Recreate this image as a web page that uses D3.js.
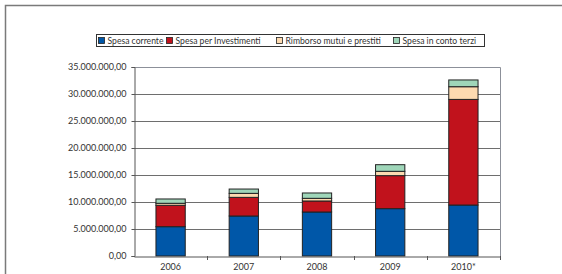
<!DOCTYPE html>
<html><head><meta charset="utf-8">
<script src="https://cdn.jsdelivr.net/npm/d3@7"></script>
<style>body{margin:0;background:#fff}svg{display:block}text{font-family:Lato,"Open Sans",sans-serif;fill:#333}</style>
</head><body>
<script>
const categories = ["2006","2007","2008","2009","2010*"];
const seriesNames = ["Spesa corrente","Spesa per Investimenti","Rimborso mutui e prestiti","Spesa in conto terzi"];
const spesaCorrente = [5430000, 7410000, 8150000, 8770000, 9440000];
const spesaInvestimenti = [3960000, 3450000, 2040000, 6110000, 19560000];
const rimborsoMutui = [370000, 740000, 490000, 800000, 2350000];
const spesaContoTerzi = [800000, 800000, 990000, 1230000, 1250000];
const yTicks = [0,5000000,10000000,15000000,20000000,25000000,30000000,35000000];
const colors = ["#0057A8","#C1121C","#FDDAB0","#9FD6B9"];

const W=562,H=274;
const svg=d3.select("body").append("svg").attr("width",W).attr("height",H);
// outer frame
svg.append("rect").attr("x",5.5).attr("y",5.5).attr("width",W+10).attr("height",H+10)
  .attr("fill","none").attr("stroke","#7a7a7a").attr("stroke-width",1.5);

const m={l:134,r:500,t:67,b:256};
const x=d3.scaleBand().domain(categories).range([m.l,m.r]).paddingInner(0.6).paddingOuter(0.3);
const xb=d3.scaleBand().domain(categories).range([m.l,m.r]);
const y=d3.scaleLinear().domain([0,35000000]).range([m.b,m.t]);

// grid
svg.append("g").selectAll("line").data(yTicks.filter(d=>d>0)).join("line")
  .attr("x1",m.l).attr("x2",m.r).attr("y1",d=>Math.round(y(d))+0.5).attr("y2",d=>Math.round(y(d))+0.5)
  .attr("stroke","#6e6e6e").attr("stroke-width",1);
// plot border right/top
svg.append("path").attr("d",`M${m.l},${m.t+0.5}H${m.r+0.5}V${m.b}`).attr("fill","none").attr("stroke","#8c9099").attr("stroke-width",1);

const data=categories.map((c,i)=>({cat:c,v:[spesaCorrente[i],spesaInvestimenti[i],rimborsoMutui[i],spesaContoTerzi[i]]}));
const stack=d3.stack().keys([0,1,2,3]).value((d,k)=>d.v[k]);
const layers=stack(data);
svg.append("g").selectAll("g").data(layers).join("g").attr("fill",(d,i)=>colors[i])
  .selectAll("rect").data(d=>d).join("rect")
  .attr("x",d=>x(d.data.cat)).attr("width",x.bandwidth())
  .attr("y",d=>y(d[1])).attr("height",d=>y(d[0])-y(d[1]))
  .attr("stroke","#222").attr("stroke-width",1);

// y axis
const ya=svg.append("g").attr("transform",`translate(${m.l+0.5},0)`)
  .call(d3.axisLeft(y).tickValues(yTicks).tickSize(3).tickPadding(5)
  .tickFormat(d=>d3.format(",.2f")(d).replace(/,/g,"#").replace(".",",").replace(/#/g,".")));
ya.select(".domain").attr("stroke","#555");
ya.selectAll("line").attr("stroke","#555");
ya.selectAll("text").attr("font-size","9px").attr("fill","#333");
// x axis
const xa=svg.append("g").attr("transform",`translate(0,${m.b+0.5})`)
  .call(d3.axisBottom(xb).tickSize(0).tickPadding(7));
xa.select(".domain").attr("stroke","#555");
xa.selectAll("text").attr("font-size","9px").attr("fill","#333");
svg.append("g").selectAll("line").data(categories.slice(1).concat(["end"])).join("line")
  .attr("x1",(d,i)=>Math.round(m.l+xb.step()*(i+1))+0.5).attr("x2",(d,i)=>Math.round(m.l+xb.step()*(i+1))+0.5)
  .attr("y1",m.b).attr("y2",m.b+4).attr("stroke","#555");

// legend
const lg=svg.append("g");
lg.append("rect").attr("x",96.5).attr("y",34.5).attr("width",388).attr("height",12)
  .attr("fill","#fff").attr("stroke","#333").attr("stroke-width",1);
const lx=[98,166,276,393];
seriesNames.forEach((n,i)=>{
  lg.append("rect").attr("x",lx[i]+0.5).attr("y",37.5).attr("width",6).attr("height",6)
    .attr("fill",colors[i]).attr("stroke","#222").attr("stroke-width",0.8);
  lg.append("text").attr("x",lx[i]+9.5).attr("y",44).attr("font-size","8.6px").text(n);
});
</script>
</body></html>
